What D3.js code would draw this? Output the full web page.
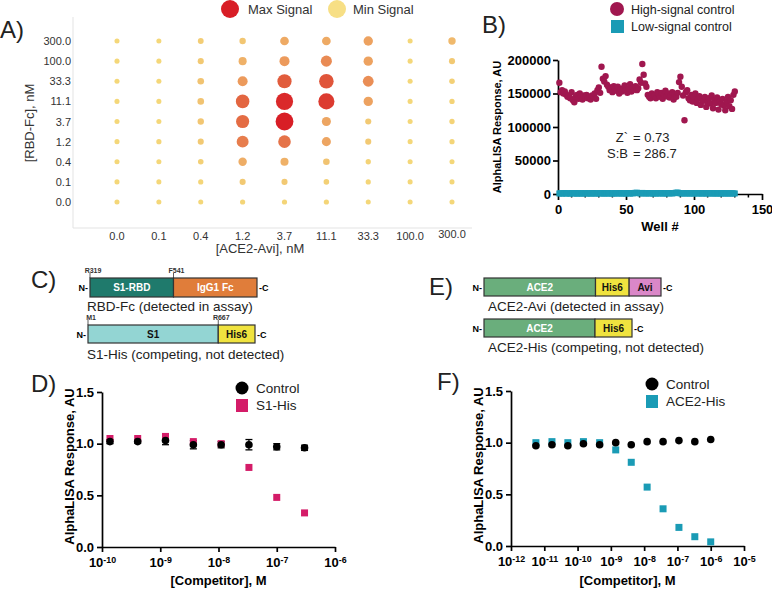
<!DOCTYPE html>
<html><head><meta charset="utf-8">
<script src="https://cdn.jsdelivr.net/npm/d3@7"></script>
<style>body{margin:0;background:#fff}svg{display:block}</style>
</head><body><svg id="c" width="772" height="589"></svg>
<script>
// ---------- DATA ----------
// Panel A
const aceConc = ["0.0","0.1","0.4","1.2","3.7","11.1","33.3","100.0","300.0"];
const rbdConc = ["300.0","100.0","33.3","11.1","3.7","1.2","0.4","0.1","0.0"];
const signal300 = [0.02,0.02,0.08,0.12,0.30,0.30,0.35,0.02,0.20];
const signal100 = [0.02,0.02,0.10,0.25,0.40,0.48,0.35,0.02,0.10];
const signal33  = [0.02,0.02,0.14,0.40,0.72,0.75,0.46,0.02,0.06];
const signal11  = [0.02,0.02,0.14,0.67,0.95,0.87,0.35,0.02,0.04];
const signal3_7 = [0.02,0.02,0.12,0.64,1.00,0.33,0.10,0.02,0.04];
const signal1_2 = [0.02,0.03,0.10,0.55,0.60,0.33,0.10,0.02,0.03];
const signal0_4 = [0.02,0.02,0.06,0.28,0.25,0.14,0.04,0.02,0.02];
const signal0_1 = [0.02,0.02,0.03,0.10,0.10,0.06,0.03,0.02,0.02];
const signal0_0 = [0.02,0.02,0.02,0.03,0.03,0.03,0.02,0.02,0.02];
const signalRows = [signal300,signal100,signal33,signal11,signal3_7,signal1_2,signal0_4,signal0_1,signal0_0];

// Panel B
const highSignal = [
166000,152000,155000,150000,153000,148000,145000,147000,143000,152000,
140000,137000,145000,148000,142000,150000,146000,141000,147000,144000,
148000,143000,145000,141000,147000,146000,150000,142000,155000,159000,
151000,190000,172000,168000,176000,163000,160000,155000,158000,152000,
161000,157000,154000,160000,150000,156000,153000,158000,162000,155000,
151000,157000,164000,153000,159000,156000,161000,155000,158000,171000,
166000,194000,178000,165000,160000,148000,145000,143000,150000,146000,
147000,143000,152000,149000,145000,151000,142000,148000,154000,146000,
150000,144000,147000,152000,141000,149000,145000,151000,167000,175000,
160000,147000,110000,152000,155000,143000,140000,148000,138000,145000,
150000,136000,142000,146000,133000,141000,139000,145000,130000,137000,
143000,135000,147000,128000,140000,136000,144000,126000,139000,134000,
142000,132000,125000,138000,145000,131000,140000,127000,148000,153000];
const lowSignal = [
820,1200,560,940,1500,700,1100,880,620,1350, 990,760,1420,530,1080,870,1260,640,950,1180,
720,1320,880,590,1040,1460,810,670,1230,960, 1110,780,1380,620,1010,890,1290,740,1150,560,
980,1340,700,1210,860,1470,650,1060,920,780, 1400,1120,690,1270,830,1520,1760,1900,1340,1080,
980,1610,870,1190,760,1380,920,1050,1230,640, 1120,880,1310,770,990,1450,830,1180,690,1060,
1270,940,1350,860,1220,1580,1950,2100,1420,1010, 890,1160,770,1330,950,1080,720,1240,1010,860,
1390,780,1130,960,1270,700,1050,1180,830,990, 1310,750,1080,920,1190,680,1020,870,1140,790,
960,1230,710,1060,890,1170,760,1020,940,850];
const bYTicks = [0,50000,100000,150000,200000];
const bXTicks = [0,50,100,150];

// Panel D
const dConc = [1.37e-10,4.1e-10,1.23e-9,3.7e-9,1.11e-8,3.33e-8,1e-7,3e-7];
const dControl = [1.02,1.02,1.03,0.99,0.99,0.99,0.97,0.96];
const dControlErr = [0.02,0.015,0.04,0.04,0.03,0.05,0.03,0.025];
const dS1His = [1.05,1.05,1.07,1.02,1.00,0.77,0.48,0.33];
const dXTicks = [1e-10,1e-9,1e-8,1e-7,1e-6];
const yTicks = [0,0.5,1.0,1.5];

// Panel F
const fConc = [5.6e-12,1.7e-11,5.1e-11,1.5e-10,4.6e-10,1.4e-9,4.1e-9,1.23e-8,3.7e-8,1.11e-7,3.33e-7,1e-6];
const fControl = [0.97,0.98,0.97,0.99,0.98,1.00,0.98,1.01,1.01,1.02,1.01,1.03];
const fAce2His = [1.00,1.01,1.00,1.01,1.00,0.93,0.81,0.57,0.36,0.18,0.09,0.04];
const fXTicks = [1e-12,1e-11,1e-10,1e-9,1e-8,1e-7,1e-6,1e-5];

// Construct diagrams
const rbdFc  = [{label:"S1-RBD",len:50,color:"#1F7A6C",tc:"#fff"},{label:"IgG1 Fc",len:50,color:"#E07D3A",tc:"#fff"}];
const s1His  = [{label:"S1",len:78,color:"#93D5D3",tc:"#111"},{label:"His6",len:22,color:"#F0E33F",tc:"#111"}];
const ace2Avi= [{label:"ACE2",len:63,color:"#6AAE7C",tc:"#fff"},{label:"His6",len:19,color:"#F0E33F",tc:"#111"},{label:"Avi",len:18,color:"#DA87C8",tc:"#111"}];
const ace2His= [{label:"ACE2",len:75,color:"#6AAE7C",tc:"#fff"},{label:"His6",len:25,color:"#F0E33F",tc:"#111"}];

// ---------- DRAW ----------
const FONT = '"Liberation Sans", Arial, Helvetica, sans-serif';
const svg = d3.select("#c").attr("font-family", FONT);
svg.append("rect").attr("width",772).attr("height",589).attr("fill","#fff");

// panel labels
[["A)",0,38],["B)",482,33],["C)",31,288],["D)",31,392],["E)",429,295],["F)",437,390]].forEach(([t,x,y])=>{
  svg.append("text").attr("x",x).attr("y",y).attr("font-size",24).attr("fill","#222").text(t);
});

function styleAxis(g, fs){
  g.attr("font-family",FONT).attr("font-size",fs).attr("font-weight","bold");
  g.select(".domain").attr("stroke","#000").attr("stroke-width",1.7);
  g.selectAll(".tick line").attr("stroke","#000").attr("stroke-width",1.7);
  g.selectAll(".tick text").attr("fill","#000");
}
function superscript(g){
  g.selectAll(".tick text").each(function(d){
    const e = Math.round(Math.log10(d));
    const t = d3.select(this); t.text(null);
    t.append("tspan").text("10");
    t.append("tspan").attr("dy","-0.45em").attr("font-size","0.68em").text(e);
  });
}

// ----- Panel A -----
{
  const g = svg.append("g");
  const x = d3.scalePoint().domain(aceConc).range([117,452]);
  const y = d3.scalePoint().domain(rbdConc).range([41,202]);
  const r = d3.scaleLinear().domain([0,1]).range([2.4,8.9]);
  const col = d3.scaleLinear().domain([0,0.15,0.4,0.7,1]).range(["#F5DA7A","#F1C170","#EC9A5C","#E2603E","#D81E26"]);
  g.append("line").attr("x1",73).attr("x2",73).attr("y1",17).attr("y2",228).attr("stroke","#e3e3e3");
  g.append("line").attr("x1",73).attr("x2",472).attr("y1",228).attr("y2",228).attr("stroke","#e3e3e3");
  rbdConc.forEach((rc,i)=>{
    g.append("text").attr("x",71).attr("y",y(rc)+4).attr("text-anchor","end").attr("font-size",11).attr("fill","#333").text(rc);
    aceConc.forEach((ac,j)=>{
      const v = signalRows[i][j];
      g.append("circle").attr("cx",x(ac)).attr("cy",y(rc)).attr("r",r(v)).attr("fill",col(v));
    });
  });
  aceConc.forEach(ac=>{
    g.append("text").attr("x",x(ac)).attr("y",ac==="300.0"?238:240).attr("text-anchor","middle").attr("font-size",11).attr("fill","#333").text(ac);
  });
  g.append("text").attr("x",260).attr("y",253).attr("text-anchor","middle").attr("font-size",13).attr("fill","#333").text("[ACE2-Avi], nM");
  g.append("text").attr("transform","translate(34,123) rotate(-90)").attr("text-anchor","middle").attr("font-size",13).attr("fill","#333").text("[RBD-Fc], nM");
  g.append("circle").attr("cx",230).attr("cy",9).attr("r",9).attr("fill",col(1));
  g.append("text").attr("x",248).attr("y",14).attr("font-size",13).attr("fill","#333").text("Max Signal");
  g.append("circle").attr("cx",337).attr("cy",9).attr("r",9).attr("fill","#F7DF85");
  g.append("text").attr("x",353).attr("y",14).attr("font-size",13).attr("fill","#333").text("Min Signal");
}

// ----- Panel B -----
{
  const g = svg.append("g");
  const x = d3.scaleLinear().domain([0,150]).range([558,762]);
  const y = d3.scaleLinear().domain([0,200000]).range([194,60]);
  const HC = "#A0174F", LC = "#1A9BB5";
  const gy = g.append("g").attr("transform","translate(558,0)")
    .call(d3.axisLeft(y).tickValues(bYTicks).tickFormat(d3.format("d")).tickSize(5).tickPadding(2).tickSizeOuter(0));
  styleAxis(gy,13);
  const gx = g.append("g").attr("transform","translate(0,194)")
    .call(d3.axisBottom(x).tickValues(bXTicks).tickSize(6).tickPadding(5).tickSizeOuter(0));
  styleAxis(gx,13);
  g.append("g").selectAll("line").data(d3.range(10,150,10).filter(v=>v%50)).join("line")
    .attr("x1",d=>x(d)).attr("x2",d=>x(d)).attr("y1",194).attr("y2",197.5).attr("stroke","#000").attr("stroke-width",1.5);
  g.append("g").selectAll("circle").data(highSignal).join("circle")
    .attr("cx",(d,i)=>x(i+1)).attr("cy",d=>y(d)).attr("r",3.2).attr("fill",HC);
  g.append("g").selectAll("rect").data(lowSignal).join("rect")
    .attr("x",(d,i)=>x(i+1)-3).attr("y",d=>y(d)-3).attr("width",6).attr("height",6).attr("fill",LC);
  g.append("text").attr("transform","translate(501,127) rotate(-90)").attr("text-anchor","middle").attr("font-size",11).attr("font-weight","bold").text("AlphaLISA Response, AU");
  g.append("text").attr("x",660).attr("y",231).attr("text-anchor","middle").attr("font-size",13).attr("font-weight","bold").text("Well #");
  g.append("text").attr("x",628).attr("y",142).attr("text-anchor","end").attr("font-size",13).attr("fill","#222").text("Z`");
  g.append("text").attr("x",633).attr("y",142).attr("font-size",13).attr("fill","#222").text("= 0.73");
  g.append("text").attr("x",628).attr("y",158).attr("text-anchor","end").attr("font-size",13).attr("fill","#222").text("S:B");
  g.append("text").attr("x",633).attr("y",158).attr("font-size",13).attr("fill","#222").text("= 286.7");
  g.append("circle").attr("cx",617).attr("cy",9).attr("r",7).attr("fill",HC);
  g.append("text").attr("x",631).attr("y",14).attr("font-size",12.5).attr("fill","#222").text("High-signal control");
  g.append("rect").attr("x",611).attr("y",20).attr("width",13).attr("height",13).attr("fill",LC);
  g.append("text").attr("x",631).attr("y",31).attr("font-size",12.5).attr("fill","#222").text("Low-signal control");
}

// ----- Construct diagrams -----
function construct(segs, x0, x1, y0, h, marks){
  const g = svg.append("g");
  const s = d3.scaleLinear().domain([0, d3.sum(segs,d=>d.len)]).range([x0,x1]);
  let acc = 0;
  segs.forEach(sg=>{
    const a = s(acc), b = s(acc+sg.len);
    g.append("rect").attr("x",a).attr("y",y0).attr("width",b-a).attr("height",h).attr("fill",sg.color).attr("stroke","#333").attr("stroke-width",1.2);
    g.append("text").attr("x",(a+b)/2).attr("y",y0+h/2+3.5).attr("text-anchor","middle").attr("font-size",10).attr("font-weight","bold").attr("fill",sg.tc).text(sg.label);
    acc += sg.len;
  });
  g.append("text").attr("x",x0-2).attr("y",y0+h/2+3.5).attr("text-anchor","end").attr("font-size",9).attr("font-weight","bold").text("N-");
  g.append("text").attr("x",x1+2).attr("y",y0+h/2+3.5).attr("font-size",9).attr("font-weight","bold").text("-C");
  (marks||[]).forEach(([lab,pos])=>{
    const px = s(pos);
    g.append("line").attr("x1",px).attr("x2",px).attr("y1",y0-5).attr("y2",y0).attr("stroke","#333").attr("stroke-width",0.8);
    g.append("text").attr("x",px+3).attr("y",y0-5).attr("text-anchor","middle").attr("font-size",7).attr("font-weight","bold").attr("fill","#333").text(lab);
  });
}
construct(rbdFc, 90, 257, 278, 19, [["R319",0],["F541",50]]);
construct(s1His, 88, 255, 325, 18, [["M1",0],["R667",78]]);
construct(ace2Avi, 484, 661, 278, 18);
construct(ace2His, 484, 632, 319, 18);
[["RBD-Fc (detected in assay)",87,311],["S1-His (competing, not detected)",87,359],
 ["ACE2-Avi (detected in assay)",488,311],["ACE2-His (competing, not detected)",488,352]].forEach(([t,x,y])=>{
  svg.append("text").attr("x",x).attr("y",y).attr("font-size",13.5).attr("fill","#222").text(t);
});

// ----- Dose response panels -----
function dosePanel(opt){
  const g = svg.append("g");
  const x = d3.scaleLog().domain(opt.xDomain).range(opt.xRange);
  const y = d3.scaleLinear().domain([0,1.5]).range(opt.yRange);
  const gy = g.append("g").attr("transform",`translate(${opt.xRange[0]},0)`)
    .call(d3.axisLeft(y).tickValues(yTicks).tickFormat(d3.format(".1f")).tickSize(5).tickPadding(3).tickSizeOuter(0));
  styleAxis(gy,13);
  const gx = g.append("g").attr("transform",`translate(0,${opt.yRange[0]})`)
    .call(d3.axisBottom(x).tickValues(opt.xTicks).tickSize(5).tickPadding(6).tickSizeOuter(0));
  styleAxis(gx,13);
  superscript(gx);
  if (opt.err){
    const eg = g.append("g").attr("stroke","#000").attr("stroke-width",1.3);
    opt.conc.forEach((c,i)=>{
      const cx = x(c), lo = y(opt.control[i]-opt.err[i]), hi = y(opt.control[i]+opt.err[i]);
      eg.append("line").attr("x1",cx).attr("x2",cx).attr("y1",lo).attr("y2",hi);
      eg.append("line").attr("x1",cx-3.5).attr("x2",cx+3.5).attr("y1",lo).attr("y2",lo);
      eg.append("line").attr("x1",cx-3.5).attr("x2",cx+3.5).attr("y1",hi).attr("y2",hi);
    });
  }
  const sq = opt.sqFirst;
  const drawSq = ()=> g.append("g").selectAll("rect").data(opt.comp).join("rect")
    .attr("x",(d,i)=>x(opt.conc[i])-3.5).attr("y",d=>y(d)-3.5).attr("width",7).attr("height",7).attr("fill",opt.color);
  const drawC = ()=> g.append("g").selectAll("circle").data(opt.control).join("circle")
    .attr("cx",(d,i)=>x(opt.conc[i])).attr("cy",d=>y(d)).attr("r",3.8).attr("fill","#000");
  if (sq){ drawSq(); drawC(); } else { drawC(); drawSq(); }
  const yc = (opt.yRange[0]+opt.yRange[1])/2 - 3;
  g.append("text").attr("transform",`translate(${opt.yTitleX},${yc}) rotate(-90)`).attr("text-anchor","middle").attr("font-size",13).attr("font-weight","bold").text("AlphaLISA Response, AU");
  g.append("text").attr("x",(opt.xRange[0]+opt.xRange[1])/2).attr("y",585).attr("text-anchor","middle").attr("font-size",13).attr("font-weight","bold").text("[Competitor], M");
  const [lx,ly] = opt.legend;
  g.append("circle").attr("cx",lx).attr("cy",ly).attr("r",6.5).attr("fill","#000");
  g.append("text").attr("x",lx+14).attr("y",ly+5).attr("font-size",13.5).attr("fill","#222").text("Control");
  g.append("rect").attr("x",lx-6).attr("y",ly+11).attr("width",12).attr("height",13).attr("fill",opt.color);
  g.append("text").attr("x",lx+14).attr("y",ly+22).attr("font-size",13.5).attr("fill","#222").text(opt.name);
}
dosePanel({xDomain:[1e-10,1e-6], xRange:[102,335], yRange:[547,392], xTicks:dXTicks,
  conc:dConc, control:dControl, err:dControlErr, comp:dS1His, color:"#D41C68", name:"S1-His",
  sqFirst:true, legend:[242,388], yTitleX:74});
dosePanel({xDomain:[1e-12,1e-5], xRange:[511,744], yRange:[546,391], xTicks:fXTicks,
  conc:fConc, control:fControl, comp:fAce2His, color:"#1A9BB5", name:"ACE2-His",
  sqFirst:true, legend:[652,384], yTitleX:483});
</script></body></html>
